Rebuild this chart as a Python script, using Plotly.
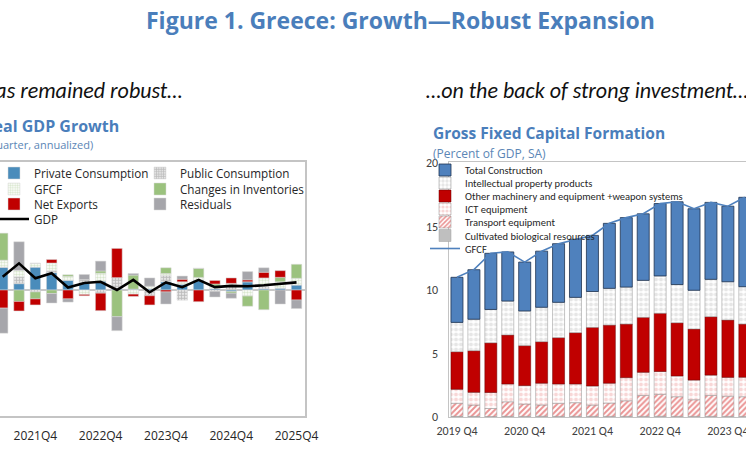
import plotly.graph_objects as go

W, H = 746, 466

# ---------------- Left panel: Real GDP growth contributions ----------------
quarters = ["2021Q2", "2021Q3", "2021Q4", "2022Q1", "2022Q2", "2022Q3", "2022Q4",
            "2023Q1", "2023Q2", "2023Q3", "2023Q4", "2024Q1", "2024Q2", "2024Q3",
            "2024Q4", "2025Q1", "2025Q2", "2025Q3", "2025Q4"]
quarter_ticks = ["2021Q4", "2022Q4", "2023Q4", "2024Q4", "2025Q4"]

private_cons = [3.6, 1.0, 3.6, 2.75, 1.55, 1.1, 1.4, 0.2, 0.15, 0.2, 1.3, 0.9, 1.57, 0.2, -0.25, 1.3, 0.2, 0.3, 0.8]
public_cons = [0.0, 1.1, -0.3, 0.3, 0.0, 0.55, -0.5, 1.75, 0.0, -0.9, 1.0, -1.6, 0.0, -0.2, 0.55, 0.0, 0.4, 0.0, 0.0]
gfcf_contrib = [1.1, 1.0, 0.6, 1.2, 0.6, -0.7, 1.25, 0.0, -0.65, 0.4, 0.3, 0.4, 0.42, 0.3, 0.5, -0.95, 1.3, 1.0, 1.05]
inventories = [4.25, -1.8, -1.1, -0.55, 0.25, 0.0, 0.35, -4.2, 2.2, 0.0, 0.9, 0.0, 1.42, 0.45, -0.25, -1.6, -3.1, 0.7, 2.2]
net_exports = [-2.85, -1.5, -0.95, 0.55, -1.4, -0.2, -2.75, 4.6, -0.35, -1.45, -0.3, 0.4, -1.84, 0.55, 0.85, 0.3, 0.9, 1.05, -1.57]
residuals = [-3.95, 4.5, 0.0, -1.5, -0.5, 0.8, 1.55, -2.2, 0.25, 1.3, -1.9, 0.5, 0.0, -0.9, -0.8, 1.3, 0.7, -2.2, -1.35]
gdp_growth = [2.1, 4.2, 1.85, 2.65, 0.4, 1.1, 1.3, 0.0, 1.6, -0.35, 1.2, 0.45, 1.6, 0.45, 0.65, 0.6, 0.75, 1.0, 1.2]

# ---------------- Right panel: GFCF (percent of GDP) ----------------
periods = ["2019Q4", "2020Q1", "2020Q2", "2020Q3", "2020Q4", "2021Q1", "2021Q2", "2021Q3",
           "2021Q4", "2022Q1", "2022Q2", "2022Q3", "2022Q4", "2023Q1", "2023Q2", "2023Q3",
           "2023Q4", "2024Q1"]
period_ticks = ["2019Q4", "2020Q4", "2021Q4", "2022Q4", "2023Q4"]
period_ticktext = ["2019 Q4", "2020 Q4", "2021 Q4", "2022 Q4", "2023 Q4"]
gfcf_yticks = [0, 5, 10, 15, 20]

construction = [3.55, 3.9, 4.42, 3.87, 3.85, 4.42, 4.62, 4.58, 4.42, 5.12, 5.47, 5.24, 5.7, 6.52, 6.42, 6.06, 5.95, 7.04]
ipp = [2.31, 2.48, 2.63, 2.67, 2.73, 2.71, 2.78, 2.78, 2.82, 2.89, 2.91, 2.91, 2.94, 3.01, 3.05, 2.94, 3.01, 2.94]
other_machinery = [2.96, 3.28, 3.91, 3.86, 3.15, 3.27, 3.65, 4.04, 4.62, 4.58, 4.22, 4.33, 4.59, 4.19, 4.02, 4.6, 4.52, 4.19]
ict = [1.10, 1.0, 1.26, 1.4, 1.45, 1.71, 1.52, 1.47, 1.5, 1.56, 1.82, 1.82, 1.79, 1.63, 1.55, 1.6, 1.48, 1.53]
transport = [1.03, 0.89, 0.63, 1.15, 0.97, 0.89, 1.03, 1.08, 0.89, 1.05, 1.23, 1.65, 1.73, 1.55, 1.31, 1.65, 1.59, 1.55]
cultivated = [0.05, 0.05, 0.04, 0.05, 0.05, 0.06, 0.05, 0.05, 0.05, 0.05, 0.05, 0.05, 0.06, 0.05, 0.05, 0.05, 0.05, 0.05]
gfcf_total = [11.0, 11.6, 12.9, 13.0, 12.2, 13.05, 13.65, 14.0, 14.3, 15.25, 15.7, 16.0, 16.8, 16.95, 16.4, 16.9, 16.6, 17.3]

FONT = "Segoe UI, Open Sans, Noto Sans, sans-serif"
NARROW = "Calibri, Lato, sans-serif"
TITLE_BLUE = "#4A7EBB"
SUB_BLUE = "#5B86B6"
TXT = "#262626"

fig = go.Figure()

def px_x(x):
    return x / W

def px_y(y):
    return 1 - y / H

legends = {}

def add_legend(name, text_x, row_y, size, family):
    legends[name] = dict(
        x=px_x(text_x - 40), y=px_y(row_y), xanchor="left", yanchor="middle",
        bgcolor="rgba(0,0,0,0)", borderwidth=0,
        font=dict(family=family, size=size, color=TXT),
    )

# left legends
L_ROWS = [173, 189, 204, 219]
left_series = [
    ("Private Consumption", private_cons, dict(color="#4A8CBB"), "legend", 34, L_ROWS[0]),
    ("Public Consumption", public_cons, dict(color="white", pattern=dict(shape=".", fgcolor="#7c7c7c", bgcolor="white", size=3, solidity=0.7)), "legend2", 180, L_ROWS[0]),
    ("GFCF", gfcf_contrib, dict(color="white", pattern=dict(shape=".", fgcolor="#b4d09e", bgcolor="white", size=3, solidity=0.5)), "legend3", 34, L_ROWS[1]),
    ("Changes in Inventories", inventories, dict(color="#9BC27E"), "legend4", 180, L_ROWS[1]),
    ("Net Exports", net_exports, dict(color="#C00000"), "legend5", 34, L_ROWS[2]),
    ("Residuals", residuals, dict(color="#A6A6AB"), "legend6", 180, L_ROWS[2]),
]
for name, vals, mk, lg, tx, ty in left_series:
    mk = dict(mk)
    mk["line"] = dict(color="#d9d9d9", width=0.5)
    fig.add_trace(go.Bar(x=quarters, y=vals, name=name, marker=mk, width=0.64,
                         xaxis="x", yaxis="y", legend=lg))
    add_legend(lg, tx, ty, 11.7, FONT)

fig.add_trace(go.Scatter(x=quarters, y=gdp_growth, name="GDP", mode="lines",
                         line=dict(color="black", width=2.6), xaxis="x", yaxis="y",
                         legend="legend7"))
add_legend("legend7", 34, L_ROWS[3], 11.7, FONT)

# right panel (bottom to top of stack)
R_ROWS = [170, 183, 196, 209, 222, 235.5, 248.5]
RTX = 465
right_series = [
    ("Cultivated biological resources", cultivated, dict(color="#BFBFBF", line=dict(color="#a0a0a0", width=0.5)), "legend13", R_ROWS[5]),
    ("Transport equipment", transport, dict(color="white", pattern=dict(shape="/", fgcolor="#D62828", bgcolor="white", size=4, solidity=0.5), line=dict(color="#909090", width=0.5)), "legend12", R_ROWS[4]),
    ("ICT equipment", ict, dict(color="white", pattern=dict(shape=".", fgcolor="#f2b0b0", bgcolor="white", size=5, solidity=0.5), line=dict(color="#909090", width=0.5)), "legend11", R_ROWS[3]),
    ("Other machinery and equipment +weapon systems", other_machinery, dict(color="#C00000", line=dict(color="#6b0000", width=0.5)), "legend10", R_ROWS[2]),
    ("Intellectual property products", ipp, dict(color="white", pattern=dict(shape=".", fgcolor="#cdcdcd", bgcolor="white", size=5, solidity=0.55), line=dict(color="#909090", width=0.5)), "legend9", R_ROWS[1]),
    ("Total Construction", construction, dict(color="#4F81BD", line=dict(color="#1f3350", width=0.8)), "legend8", R_ROWS[0]),
]
for name, vals, mk, lg, ty in right_series:
    fig.add_trace(go.Bar(x=periods, y=vals, name=name, marker=mk, width=0.71,
                         xaxis="x2", yaxis="y2", legend=lg))
    add_legend(lg, RTX, ty, 10.5, NARROW)

fig.add_trace(go.Scatter(x=periods, y=gfcf_total, name="GFCF", mode="lines",
                         line=dict(color="#4F81BD", width=1.6), xaxis="x2", yaxis="y2",
                         legend="legend14"))
add_legend("legend14", RTX, R_ROWS[6], 10.5, NARROW)

layout = dict(
    width=W, height=H, margin=dict(l=0, r=0, t=0, b=0, autoexpand=False),
    paper_bgcolor="white", plot_bgcolor="white",
    barmode="relative", showlegend=True,
    font=dict(family=FONT, color=TXT),
    xaxis=dict(domain=[0, px_x(305)], type="category", categoryarray=quarters,
               range=[-0.165, 18.52], tickvals=quarter_ticks, ticktext=quarter_ticks,
               showline=True, mirror=True, linecolor="#c4c4c4", linewidth=1.5,
               showgrid=False, ticks="", ticklabelstandoff=8,
               tickfont=dict(family=FONT, size=12, color=TXT), anchor="y"),
    yaxis=dict(domain=[px_y(416), px_y(162)], range=[-19.84, 20.16], side="right",
               showline=True, linecolor="#c4c4c4", linewidth=1.5, showgrid=False,
               showticklabels=False, ticks="", zeroline=True, zerolinecolor="#c8c8c8",
               zerolinewidth=1.5, anchor="x"),
    xaxis2=dict(domain=[px_x(448.5), 1], type="category", categoryarray=periods,
                range=[-0.5, 17.07], tickvals=period_ticks, ticktext=period_ticktext,
                showline=True, mirror=True, linecolor="#c4c4c4", linewidth=1,
                showgrid=False, ticks="", ticklabelstandoff=3,
                tickfont=dict(family=NARROW, size=12, color="#404040"), anchor="y2"),
    yaxis2=dict(domain=[px_y(417), px_y(162)], range=[0, 20.08], tickvals=gfcf_yticks,
                showline=True, linecolor="#c4c4c4", linewidth=1, showgrid=False,
                zeroline=False, ticks="", ticklabelstandoff=7,
                tickfont=dict(family=NARROW, size=12, color="#404040"), anchor="x2"),
    annotations=[
        dict(text="<b>Figure 1. Greece: Growth—Robust Expansion</b>", x=px_x(400), y=px_y(20),
             xref="paper", yref="paper", xanchor="center", yanchor="middle", showarrow=False,
             font=dict(family=FONT, size=23, color=TITLE_BLUE)),
        dict(text="<i>Growth has remained robust…</i>", x=px_x(184), y=px_y(90),
             xref="paper", yref="paper", xanchor="right", yanchor="middle", showarrow=False,
             font=dict(family=NARROW, size=22, color="#111111")),
        dict(text="<i>…on the back of strong investment…</i>", x=px_x(424), y=px_y(90),
             xref="paper", yref="paper", xanchor="left", yanchor="middle", showarrow=False,
             font=dict(family=NARROW, size=22, color="#111111")),
        dict(text="<b>Real GDP Growth</b>", x=px_x(121), y=px_y(126),
             xref="paper", yref="paper", xanchor="right", yanchor="middle", showarrow=False,
             font=dict(family=FONT, size=16, color=TITLE_BLUE)),
        dict(text="(Percent, quarter-on-quarter, annualized)", x=px_x(95), y=px_y(145),
             xref="paper", yref="paper", xanchor="right", yanchor="middle", showarrow=False,
             font=dict(family=FONT, size=11, color=SUB_BLUE)),
        dict(text="<b>Gross Fixed Capital Formation</b>", x=px_x(431), y=px_y(133),
             xref="paper", yref="paper", xanchor="left", yanchor="middle", showarrow=False,
             font=dict(family=FONT, size=15.5, color=TITLE_BLUE)),
        dict(text="(Percent of GDP, SA)", x=px_x(431), y=px_y(153),
             xref="paper", yref="paper", xanchor="left", yanchor="middle", showarrow=False,
             font=dict(family=FONT, size=12, color=SUB_BLUE)),
    ],
)
layout.update(legends)
fig.update_layout(**layout)

fig.write_html("out.html")
